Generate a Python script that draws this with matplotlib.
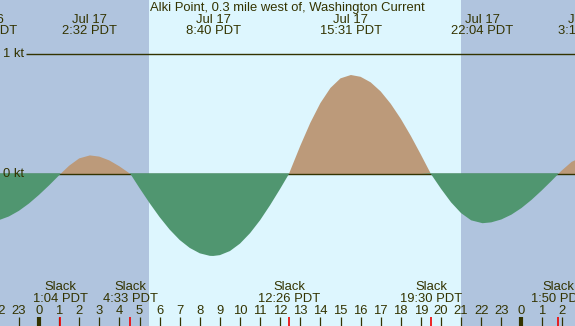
import numpy as np
import matplotlib
matplotlib.use("Agg")
import matplotlib.pyplot as plt

# ---- data (hours relative to Jul 17 00:00 PDT, speed in knots) ----
hours = [-2.65, -2.5, -2.0, -1.5, -1.0, -0.5, 0.0, 0.5, 1.0, 1.067,
         1.5, 2.0, 2.533, 3.0, 3.5, 4.0, 4.5, 4.55,
         5.0, 5.5, 6.0, 6.5, 7.0, 7.5, 8.0, 8.5, 8.667, 9.0, 9.5, 10.0, 10.5,
         11.0, 11.5, 12.0, 12.433,
         12.5, 13.0, 13.5, 14.0, 14.5, 15.0, 15.517, 16.0, 16.5, 17.0, 17.5,
         18.0, 18.5, 19.0, 19.5,
         20.0, 20.5, 21.0, 21.5, 22.067, 22.5, 23.0, 23.5, 24.0, 24.5, 25.0,
         25.5, 25.833, 26.0, 26.5, 27.0]
speed = [-0.400, -0.399, -0.385, -0.354, -0.307, -0.246, -0.174, -0.095, -0.011, 0.0,
         0.069, 0.130, 0.155, 0.145, 0.113, 0.064, 0.006, 0.0,
         -0.117, -0.242, -0.359, -0.463, -0.550, -0.616, -0.661, -0.682, -0.683, -0.676,
         -0.642, -0.580, -0.493, -0.385, -0.259, -0.123, 0.0,
         0.028, 0.235, 0.427, 0.591, 0.717, 0.797, 0.825, 0.810, 0.764, 0.688, 0.585,
         0.460, 0.317, 0.161, 0.0,
         -0.123, -0.236, -0.326, -0.386, -0.410, -0.403, -0.379, -0.339, -0.284, -0.216,
         -0.139, -0.057, 0.0, 0.028, 0.101, 0.141]

slack_times = [1.067, 4.55, 12.433, 19.5, 25.833]
slack_labels = ["1:04 PDT", "4:33 PDT", "12:26 PDT", "19:30 PDT", "1:50 PDT"]

max_times = [-2.62, 2.533, 8.667, 15.517, 22.067, 27.17]
max_dates = ["Jul 16", "Jul 17", "Jul 17", "Jul 17", "Jul 17", "Jul 18"]
max_labels = ["21:23 PDT", "2:32 PDT", "8:40 PDT", "15:31 PDT", "22:04 PDT", "3:10 PDT"]

sunrise = 5.47
sunset = 21.0
title = "Alki Point, 0.3 mile west of, Washington Current"

# ---- styling ----
plt.rcParams['font.family'] = ['Liberation Sans', 'DejaVu Sans']
TXT = '#333300'
NIGHT = '#b0c4de'
DAY = '#ddf6fe'
FLOOD = '#bc9a7a'
EBB = '#509670'
FS = 9.4

W, H = 575, 326
fig = plt.figure(figsize=(W / 100, H / 100), dpi=100)
ax = fig.add_axes([0, 0, 1, 1])
ax.set_axis_off()

x0px, pxh = 39.0, 20.1
xmin = -x0px / pxh
xmax = (W - x0px) / pxh
y0px, pxk = 174.0, 120.0
ymax = y0px / pxk
ymin = (y0px - H) / pxk
ax.set_xlim(xmin, xmax)
ax.set_ylim(ymin, ymax)

def px2y(p):
    return (y0px - p) / pxk

def px2x(p):
    return (p - x0px) / pxh

# background
ax.axvspan(xmin, sunrise, color=NIGHT, zorder=0, lw=0)
ax.axvspan(sunrise, sunset, color=DAY, zorder=0, lw=0)
ax.axvspan(sunset, xmax, color=NIGHT, zorder=0, lw=0)

h = np.array(hours)
s = np.array(speed)
ax.fill_between(h, 0, s, where=s >= 0, interpolate=True, color=FLOOD, lw=0, zorder=2)
ax.axhline(0, color=TXT, lw=1.0, zorder=3)
ax.fill_between(h, 0.006, np.minimum(s, 0), where=s <= 0, interpolate=True,
                color=EBB, lw=0, zorder=4)

# 1 kt line
ax.hlines(1.0, px2x(26), xmax, color=TXT, lw=1.0, zorder=3)
ax.text(px2x(3), 1.0, "1 kt", color=TXT, fontsize=FS, ha='left', va='center', zorder=6)
ax.text(px2x(3), 0.0, "0 kt", color=TXT, fontsize=FS, ha='left', va='center', zorder=6)

# title
ax.text(0.5 * (xmin + xmax), px2y(7.5), title, color=TXT, fontsize=FS,
        ha='center', va='center', zorder=6)

# max labels
for t, d, lab in zip(max_times, max_dates, max_labels):
    ax.text(t, px2y(20), d, color=TXT, fontsize=FS, ha='center', va='center', zorder=6)
    ax.text(t, px2y(31.5), lab, color=TXT, fontsize=FS, ha='center', va='center', zorder=6)

# slack labels
for t, lab in zip(slack_times, slack_labels):
    ax.text(t, px2y(287.5), "Slack", color=TXT, fontsize=FS, ha='center', va='center', zorder=6)
    ax.text(t, px2y(299.5), lab, color=TXT, fontsize=FS, ha='center', va='center', zorder=6)

# hour ticks
tick_top, tick_bot = px2y(316.7), ymin
for hr in range(-2, 28):
    if hr < xmin - 1 or hr > xmax + 1:
        continue
    ax.text(hr, px2y(311.5), str(hr % 24), color=TXT, fontsize=FS,
            ha='center', va='center', zorder=6)
    lw = 3.0 if hr % 24 == 0 else 0.9
    ax.vlines(hr, tick_bot, tick_top, color=TXT, lw=lw, zorder=5)
for t in slack_times:
    ax.vlines(t, tick_bot, tick_top, color='#ee0000', lw=1.2, zorder=5)

fig.savefig("out.png", dpi=100)
